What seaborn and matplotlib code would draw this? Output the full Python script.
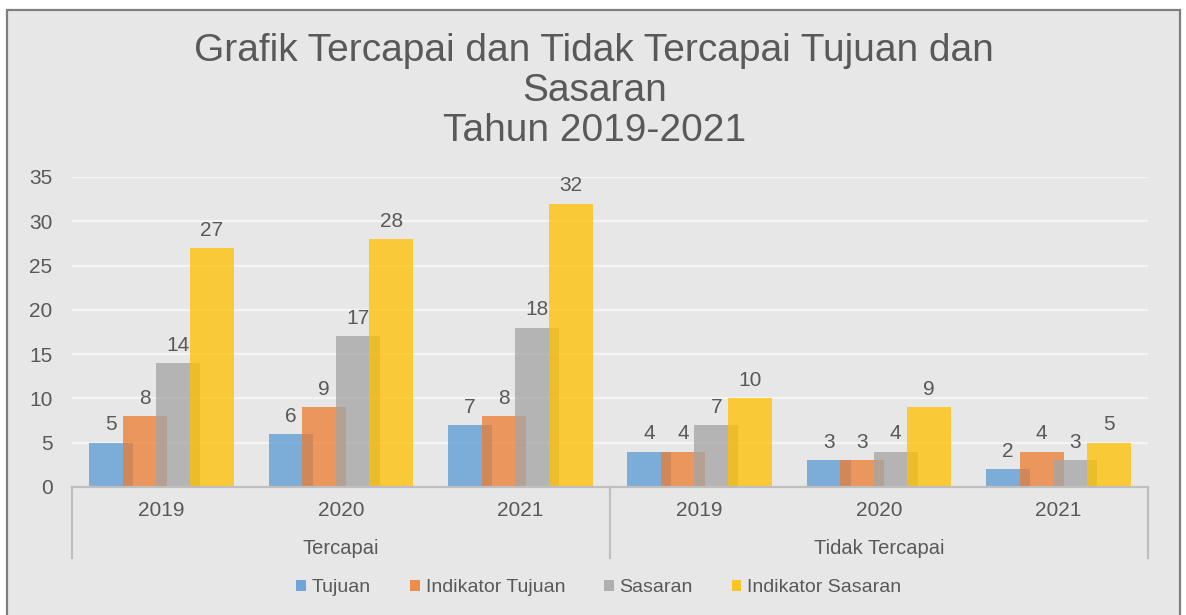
import numpy as np
import pandas as pd
import matplotlib
matplotlib.use("Agg")
import matplotlib.pyplot as plt
import matplotlib.transforms as mtransforms
from matplotlib.patches import Rectangle, Patch
import seaborn as sns

# ---- data ----
groups = ["Tercapai", "Tidak Tercapai"]
years = ["2019", "2020", "2021", "2019", "2020", "2021"]
series = ["Tujuan", "Indikator Tujuan", "Sasaran", "Indikator Sasaran"]
tujuan = [5, 6, 7, 4, 3, 2]
indikator_tujuan = [8, 9, 8, 4, 3, 4]
sasaran = [14, 17, 18, 7, 4, 3]
indikator_sasaran = [27, 28, 32, 10, 9, 5]
values = [tujuan, indikator_tujuan, sasaran, indikator_sasaran]
colors = ["#5B9BD5", "#ED7D31", "#A5A5A5", "#FFC000"]

TXT = "#595959"
BG = "#e7e7e7"
plt.rcParams["font.family"] = ["Liberation Sans", "DejaVu Sans"]

fig = plt.figure(figsize=(11.86, 6.15), dpi=100)
fig.patch.set_facecolor("white")
fig.patches.append(Rectangle((7 / 1186, -0.02), (1180 - 7) / 1186, 1 - 10 / 615 + 0.02,
                             transform=fig.transFigure, facecolor=BG,
                             edgecolor="#7f7f7f", lw=1.6, zorder=-10))

ax = fig.add_axes([72 / 1186, 1 - 487 / 615, (1148 - 72) / 1186, (487 - 177) / 615])
ax.set_facecolor("none")

pos = np.arange(len(years))
step = 0.187
width = 0.245
offsets = [-1.5 * step, -0.5 * step, 0.5 * step, 1.5 * step]

for i, (name, vals) in enumerate(zip(series, values)):
    sns.barplot(x=pos + offsets[i], y=vals, native_scale=True, orient="x",
                width=width, color=colors[i], saturation=1, alpha=0.76,
                errorbar=None, ax=ax, zorder=2 + i)

for i, cont in enumerate(ax.containers):
    ax.bar_label(cont, labels=[str(v) for v in values[i]], padding=6,
                 fontsize=15, color=TXT)

ax.set_xlim(-0.5, 5.5)
ax.set_ylim(0, 35)
ax.set_yticks(np.arange(0, 36, 5))
ax.set_yticklabels([str(v) for v in range(0, 36, 5)], fontsize=15, color=TXT)
ax.tick_params(axis="y", length=0, pad=14)
ax.set_xticks([])
ax.set_xlabel("")
ax.set_ylabel("")
for sp in ax.spines.values():
    sp.set_visible(False)
ax.yaxis.grid(True, color="#f4f4f4", lw=1.6)
ax.set_axisbelow(True)

trans = mtransforms.blended_transform_factory(ax.transData, ax.transAxes)
ax.plot([-0.5, 5.5], [0, 0], transform=trans, color="#bfbfbf", lw=1.6,
        clip_on=False, zorder=10)
for xs in [-0.5, 2.5, 5.5]:
    ax.plot([xs, xs], [0, -71 / 310], transform=trans, color="#bfbfbf",
            lw=1.6, clip_on=False, zorder=10)

for p, y in zip(pos, years):
    ax.text(p, -24 / 310, y, transform=trans, ha="center", va="center",
            fontsize=15, color=TXT)
for gi, g in enumerate(groups):
    ax.text(1 + 3 * gi, -62 / 310, g, transform=trans, ha="center",
            va="center", fontsize=14.5, color=TXT)

fig.text(0.501, 1 - 91 / 615,
         "Grafik Tercapai dan Tidak Tercapai Tujuan dan\nSasaran\nTahun 2019-2021",
         ha="center", va="center", fontsize=28, color=TXT, linespacing=1.13)

handles = [Patch(facecolor=c, alpha=0.85, edgecolor="none") for c in colors]
fig.legend(handles, series, loc="center", bbox_to_anchor=(0.505, 1 - 588 / 615),
           ncol=4, frameon=False, fontsize=14, handlelength=0.5,
           handleheight=0.5, handletextpad=0.3, columnspacing=2.0,
           labelcolor=TXT)

fig.savefig("out.png", dpi=100, facecolor=fig.get_facecolor())
